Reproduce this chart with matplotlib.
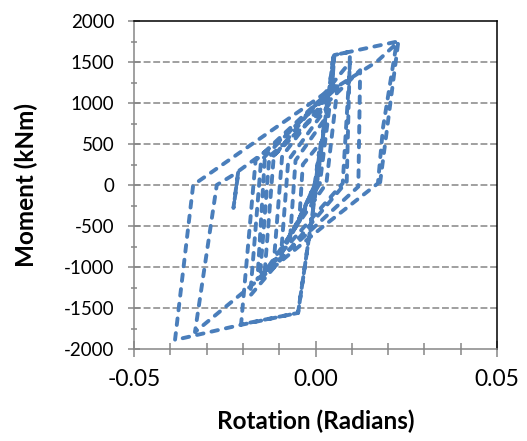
import matplotlib
matplotlib.use("Agg")
import matplotlib.pyplot as plt
from matplotlib.ticker import MultipleLocator, FixedLocator

plt.rcParams['font.family'] = ['Lato', 'DejaVu Sans']
plt.rcParams['axes.unicode_minus'] = False

# hysteresis path (rotation in rad, moment in kNm)
rotation = [
    0.0000,
    0.0010, -0.0002, -0.0045, -0.0035,
    0.0015, 0.0000, -0.0070, -0.0055,
    0.0025, 0.0003, -0.0095, -0.0075,
    0.0040, 0.0012, -0.0115, -0.0092,
    0.0062, 0.0030, -0.0140, -0.0115,
    0.0095, 0.0075, -0.0153, -0.0128,
    0.0123, 0.0118, -0.0160, -0.0140,
    0.0030, 0.0045, 0.0050, 0.0003, -0.0048, -0.0205, -0.0165,
    0.0040, 0.0052, 0.0095, 0.0086, -0.0180, -0.0150,
    0.0045, 0.0050, 0.0003, -0.0048, -0.0210, -0.0387, -0.0337,
    -0.0007, 0.0045, 0.0052, 0.0095, 0.0224, 0.0186, 0.0172,
    0.0026, -0.0332, -0.0272, -0.0213, -0.0226, -0.0212,
    -0.0107, 0.0067, 0.0169, 0.0228, 0.0178,
]
moment = [
    0,
    400, 20, -450, 250,
    520, 20, -650, 300,
    800, 20, -850, 300,
    1000, 20, -950, 350,
    1250, 20, -1060, 350,
    1500, 20, -1120, 300,
    1400, -20, -1150, 300,
    950, 1200, 1585, 0, -1560, -1700, 300,
    1150, 1585, 1625, 40, -1350, 300,
    1170, 1585, 0, -1560, -1710, -1890, 0,
    1016, 1180, 1585, 1625, 1748, 700, 20,
    -488, -1793, 0, 160, -280, 170,
    508, 1220, 1504, 1745, 30,
]

x_ticks = [-0.05, 0.0, 0.05]
x_tick_labels = ['-0.05', '0.00', '0.05']
y_ticks = [-2000, -1500, -1000, -500, 0, 500, 1000, 1500, 2000]

grey = '#868686'

fig = plt.figure(figsize=(5.27, 4.41), dpi=100)
ax = fig.add_axes([134 / 527, 92 / 441, 363 / 527, 328 / 441])

ax.plot(rotation, moment, color='#4A7EBB', lw=2.8,
        linestyle=(0, (1.7, 2.1)), dash_capstyle='round', zorder=3)

ax.set_xlim(-0.05, 0.05)
ax.set_ylim(-2000, 2000)
ax.xaxis.set_major_locator(FixedLocator(x_ticks))
ax.set_xticklabels(x_tick_labels)
ax.xaxis.set_minor_locator(MultipleLocator(0.01))
ax.yaxis.set_major_locator(FixedLocator(y_ticks))
ax.yaxis.set_minor_locator(MultipleLocator(250))

for y in y_ticks[1:-1]:
    ax.axhline(y, color=grey, lw=1.1, linestyle=(0, (4.5, 1.8)), zorder=1)

for side in ['left', 'bottom']:
    ax.spines[side].set_color(grey)
    ax.spines[side].set_linewidth(1.1)
for side in ['top', 'right']:
    ax.spines[side].set_color('black')
    ax.spines[side].set_linewidth(1.1)

ax.tick_params(axis='x', which='major', direction='inout', length=11, width=1.1,
               color=grey, labelsize=16.5, pad=9)
ax.tick_params(axis='x', which='minor', direction='inout', length=8, width=1.1, color=grey)
ax.tick_params(axis='y', which='major', direction='inout', length=8, width=1.1,
               color=grey, labelsize=13.5, pad=10)
ax.tick_params(axis='y', which='minor', direction='inout', length=5, width=1.1, color=grey)

ax.set_xlabel('Rotation (Radians)', fontsize=17.5, fontweight='bold')
ax.set_ylabel('Moment (kNm)', fontsize=17.5, fontweight='bold')
ax.xaxis.set_label_coords(0.5, (349 - 410) / 328)
ax.yaxis.set_label_coords((38 - 134) / 363, 0.5)

fig.savefig('out.png', dpi=100)
